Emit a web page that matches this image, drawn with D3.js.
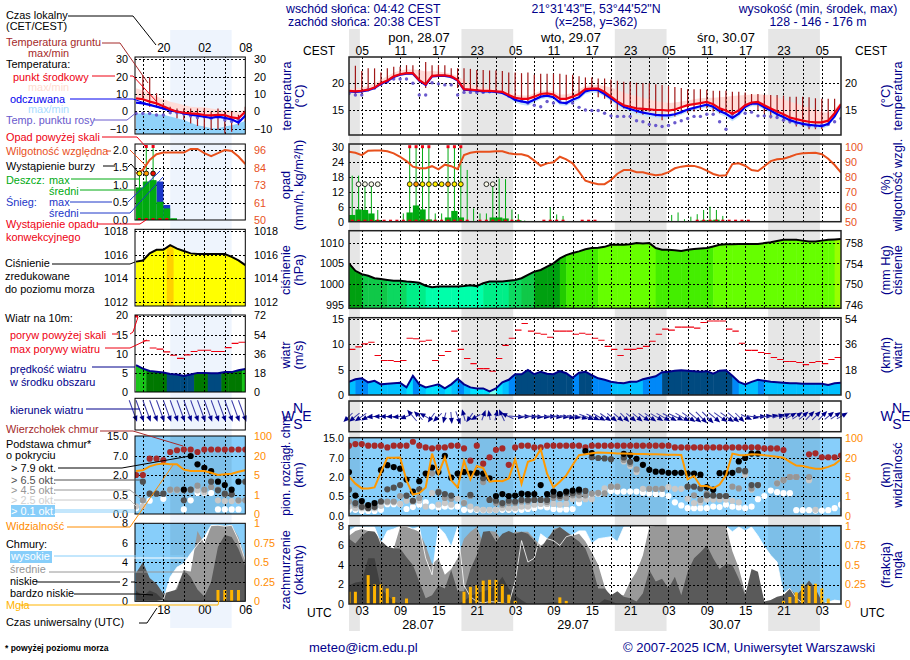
<!DOCTYPE html>
<html lang="pl">
<head>
<meta charset="utf-8">
<script src="https://d3js.org/d3.v7.min.js"></script>
<style>
    html, body { margin: 0; padding: 0; background: #fff; }
    text { font-family: "Liberation Sans", Arial, sans-serif; font-size: 12px; }
    .ylab text { font-size: 10.8px; }
    .tick line, .domain { display: none; }
    .grid .tick line { display: block; stroke: #000; stroke-dasharray: 2 2; shape-rendering: crispEdges; }
</style>
</head>
<body>
<svg id="chart" width="910" height="660"></svg>
<script>
// hours counted from 00 UTC 28.07, one value per hour starting at 01 UTC
var tempMid = [18.6,18.5,18.6,18.8,19.2,20,20.5,21.3,21.7,21.9,
    21.9,20.6,19.8,21.4,21.5,21.5,21.3,20.6,18.9,18.8,
    18.7,18.6,18.6,18.5,18.4,17.8,17.3,17.1,17.1,17.5,
    18,18.1,17.9,17.1,17.1,17.5,18,18.9,19,19,
    18.4,17.5,16.6,15.9,15.6,15.3,15.2,15.1,15,15,
    14.9,15.1,15.5,15.9,16.1,16.3,16.5,16.1,15.3,14.9,
    14.3,14.9,15.9,16.4,16.5,15.9,15.3,14.7,14.2,13.6,
    13.3,13,12.8,12.7,12.7,13,14.4,16.1];
var tempFelt = [18.5,18.4,18.5,18.7,19.1,19.9,20.4,21.2,21.6,21.8,
    21.8,20.5,19.7,21.3,21.4,21.4,21.2,20.5,18.8,18.7,
    18.6,18.5,18.5,18.4,18.2,17.6,16.9,16.6,16.4,16.9,
    17.5,17.7,17.4,16.4,16.3,16.9,17.4,18.5,18.8,18.7,
    18,17.2,16.4,15.6,15.2,14.8,14.5,14.3,14.1,14,
    14,14.2,14.6,15.1,15.4,15.7,16,15.6,14.8,14.3,
    13.5,14.3,15.6,16.2,16.2,15.5,14.9,14.2,13.7,13.1,
    12.7,12.4,12.2,12.1,12,12.4,13.8,15.9];
var tempMidMax = [19,19,19.2,19.5,20,20.7,21.3,22,22.4,22.6,
    22.6,22.5,22.2,22.3,22.2,22,21.8,21.3,20.6,19.8,
    19.4,19.2,19,18.9,18.8,18.3,17.9,17.7,17.7,18.1,
    18.6,18.7,18.5,17.9,17.9,18.3,18.9,19.5,19.7,19.7,
    19.5,19.2,18.8,18.3,17.9,17.6,17.3,17,16.7,16.5,
    16.3,16.4,16.6,16.8,17,17.2,17.3,17.3,17.4,17.5,
    17.6,17.7,17.8,17.9,17.9,17.9,17.8,17.4,17,16.6,
    16.2,15.8,15.4,15,14.6,14.5,15.2,16.5];
var tempFeltMin = [18.3,18.2,18.3,18.5,18.9,19.7,20.2,21,21.4,21.6,
    21.6,20.3,19.5,21.1,21.2,21.2,21,20.3,18.6,18.5,
    18.4,18.3,18.3,18.2,17.9,17.2,16.4,16,15.8,16.4,
    17,17.2,16.9,15.9,15.8,16.4,16.9,18,18.3,18.2,
    17.5,16.7,15.9,15.1,14.6,14.2,13.9,13.7,13.5,13.4,
    13.4,13.7,14.1,14.6,14.9,15.2,15.5,15,14.2,13.7,
    12.9,13.7,15.1,15.7,15.7,15,14.4,13.7,13.2,12.6,
    12.2,11.9,11.7,11.6,11.5,11.9,13.4,15.6];
var dewPoint = [18.1,17.8,17.8,18.8,19.1,19.8,20.3,20.8,20.8,20.8,
    20,17.8,17.8,20.1,19.9,19.7,19.7,17.8,18.3,18.3,
    18.3,18.3,18.4,18.4,18.3,17.6,17.1,16.7,16.3,15.9,
    15.6,16.6,16.3,16.6,16.3,16.3,15.5,15,14.9,14.9,
    14.4,13.9,13.8,13.8,13.8,13,12.8,12.3,12.1,11.9,
    12.1,12.6,13,13.4,13.8,13.8,14.2,14.2,12.8,11.4,
    14.2,14.8,14.4,14.6,13.9,13.9,13.8,13.6,13.1,12.8,
    12.5,12.4,12,12,12.2,12.3,12.8,13.4];
var groundMax = [null,23.3,22.3,22.8,22.8,22,22.8,23.1,23.1,23.4,
    23.4,22.5,24,23.4,23.4,23.4,22.8,22.8,22.8,22.7,
    22.5,22.5,22.4,22.4,22.3,22,22,21.9,22,21.6,
    21.8,21.8,21.8,21.8,21.6,21.6,21.3,21.1,21.1,20.9,
    20.9,20.7,20.5,20.3,20.3,20.1,20,20,19.8,19.7,
    19.5,19.3,19.1,18.9,18.9,18.9,18.8,18.6,18.6,18.6,
    18.4,18.4,18.3,18,18,17.8,17.8,17.8,17.7,17.5,
    17.5,17.5,17.4,17.2,17.1,17.1,17.1,null];
var groundMin = [null,18,18,18.8,19.1,20,20.3,20.9,21.6,21.8,
    21.6,20.3,19.1,21.4,21.6,21.4,20.9,19.1,18.6,18.4,
    18.4,18.4,18.3,18.2,18,17.5,17,16.8,16.7,17,
    17.6,17.8,17.5,16.8,16.8,17.2,17.7,18.4,18.5,17.4,
    17.1,16.1,15,15.3,15.3,14.4,14.1,14.7,13.8,13.1,
    13.8,13.8,14.4,14.4,14.7,15,15.3,14.7,14.4,14.1,
    13.8,14.1,15.6,15.9,15,14.4,13.4,13.4,12.8,12.5,
    11.9,11.9,11.4,11.4,11.4,12.3,14.1,null];

var rainMean = [2.7,4.9,4.7,3.3,.7,0,0,0,0,3.7,
    6.5,4.9,.9,.4,.2,1.7,4.3,1.7,.1,0,
    0,0,1.7,1.7,1.3,.2,.6,.2,.1,0,
    0,0,0,0,0,0,0,0,0,0,
    0,0,0,0,0,0,0,0,0,0,
    0,0,0,.2,.3,.5,.5,.8,.2,0];
var rainMax = [18.4,18.4,16,14.7,4.7,0,0,0,3.3,30,
    30,30,30,3.3,3.3,30,30,30,20.7,5.3,
    3.3,3.3,15.7,17.3,17,4.9,3,.5,.3,.2,
    .2,5.7,2.9,2.3,0,0,0,0,0,0,
    0,0,0,0,0,0,0,0,0,0,
    2.7,3.7,1,2,3,4.7,6,4.7,2.3,0];
var rainHours = d3.range(1, 20).concat([21,22,23,24,25,26,27,31,32,33,34,37,38,39,55,56,57,58,59,60,61,62,63]);
var stormHours = [2,3,4,5,10,11,12,13,14,15,16,17,18,22,23];
var stormLevels = [0,0,0,0,1,2,1,1,1,1,2,1,1,0,0];
var stormColors = ["#f8f8e8", "#ffee00", "#ff9900", "#ee1100"];
var humidity = [96.7,96,94.4,97.3,97.5,97.5,97,95.6,93.3,90.4,
    86.7,85.6,85.6,87,84.9,88,87,85,94.4,96,
    96.7,96.7,96.7,97,97,95.6,95,95,93.8,90.7,
    87.3,88.9,89.6,93.3,91.6,88.9,83.3,77.3,76,75,
    75,77.8,82,84.4,84.4,83,83,81.8,81,81.5,
    83,85.6,86.7,87.3,87.2,86,84,81.8,80.7,81,
    88.4,89,87.3,84.4,83.8,87,90.4,91.6,92,93.3,
    94.9,95.6,95.8,96,95,92,87.8,82.7];

var pressure = [1005,1003.2,1002.4,1002,1001.4,1001.2,1001,1000.8,1000.8,1000.6,
    1000.5,1000.3,999.6,999.2,999.4,999.4,999.4,999.4,999.5,999.7,
    999.5,1000.2,1000.6,1000.6,1000.6,1000.8,1001,1001.4,1002.2,1003,
    1003.4,1004.2,1005,1006.2,1007,1007.5,1007.9,1008.4,1008.7,1008.8,
    1009,1009.5,1009.5,1009.5,1009.6,1009.9,1009.8,1009.9,1008.7,1008.3,
    1008.3,1008.2,1008,1008.3,1008.5,1008.6,1008.7,1009.1,1009.5,1009.6,
    1009.6,1009.7,1009.7,1009.7,1009.7,1009.9,1010.1,1010.4,1010.7,1010.7,
    1010.7,1010.5,1010.3,1010.3,1010.5,1010.7,1010.8,1010.9];
var windSpeed = [2.6,3.1,3.3,2.5,2.8,2.1,2.2,2.3,2.4,1.5,
    3.8,2.1,1.5,1.8,2.1,1.3,2.1,3.2,2.1,1.5,
    1.3,1.3,.7,1.3,2.5,3,4.1,4.1,4.95,4.1,
    4.6,4.2,4.1,4.7,4.3,3.4,4.4,4.6,3.9,3.3,
    3,2.6,2.4,2.3,2.6,2.6,3.1,3.4,3.7,4.5,
    4.6,4.8,4.9,4.8,4.7,4.6,4.7,4.2,4.8,4.9,
    3.8,2.6,2.1,2.6,3,2.8,2.6,2.5,2.4,2.3,
    2.3,2.2,2.2,2.2,2.2,2,2.3,2.4];
var windGust = [9,9.5,10.1,10.4,7.8,6.8,6.8,6.6,6.8,11.2,
    11.1,10.6,10.8,6.8,7.8,8.6,12.6,9,7.2,6.2,
    5.2,5.2,4.7,7.2,9.8,11.2,12.8,14.1,12.6,12.2,
    12,11.4,12.6,12.6,12.6,12,12.2,12,11.2,10.8,
    9.6,9,7.8,9,9,9.2,9.6,10.6,12,13,
    12.8,13.4,13.4,13.4,13.2,14.3,14.6,14.6,14.6,13,
    12.6,10.2,8.8,8.8,8.4,8.2,7.4,7,6.6,6.6,
    6.4,6,6.4,6.6,6.2,7,7.4];
var windDir = [225,230,235,240,265,270,270,268,265,250,
    320,315,300,215,225,195,175,160,345,215,
    240,20,350,15,335,295,95,90,92,95,
    95,90,95,95,100,100,105,110,115,120,
    125,130,130,135,130,130,125,125,120,120,
    118,115,120,125,130,135,135,130,125,125,
    130,135,115,100,90,85,80,75,65,60,
    55,50,45,45,45,50,55,60];

var cloudTop = [12,12.65,12.65,12,12,12,11.3,12,12,12,
    13.6,12,11.3,10.9,11.3,11.3,12,12,10.9,6.3,
    12,5.5,7.3,10.3,10.9,5.2,11.3,12,12,11.3,
    11.3,12,12,12,12,12,12,11.3,12,12,
    12,12,12,12,12,12,12,12,12,12,
    12,11.3,11.3,11.3,11.3,11.3,11.3,11.3,11.3,11.3,
    11.3,11.3,11.3,11.3,11.3,10.9,10.9,10.9,10.2,2,
    2,null,8.5,8.9,7.3,7.3,7.3,8];
var base79 = [3.3,.53,.37,.27,.32,3.8,5.1,4.6,4.2,1.8,
    .85,1.67,2.9,4.5,3.3,7.9,1.95,2.9,3.3,2.9,
    3.1,2.9,1.9,.5,.65,.5,.53,.68,.65,.65,
    1.36,.65,.85,.65,.85,.93,1,9.8,9,null,
    null,null,null,8.7,8.2,6.8,5.2,3.9,3.4,3.4,
    3.1,3.1,3.1,2.9,2.9,2.6,1.2,1,3,3,
    3.1,6.1,7,8.8,8.8,null,null,null,null,null,
    null,null,null,null,null,null,null,null];
var base65 = [1,.32,.22,.19,.22,.36,1.03,1.16,1.36,.53,
    .38,1.03,null,null,.78,.65,.53,null,null,.6,
    null,1.9,.4,.38,.32,.38,.36,.4,.4,.4,
    .4,.4,.55,.5,.72,.72,.85,.9,7.3,7,
    6.9,6.7,null,7.2,6,null,null,null,null,null,
    null,null,null,1.24,1.24,1.1,.55,.55,.5,.5,
    null,3.8,3.6,1.36,1.36,null,null,null,null,null,
    null,null,null,null,null,null,null,null];
var base45 = [.36,.28,.25,.25,.28,.36,.36,.36,.5,.5,
    .36,.45,null,2.9,.85,.45,.43,null,.32,.5,
    2.9,1.6,.4,.32,.28,.32,.32,.36,.36,.4,
    .4,.35,.45,.45,.45,.55,.55,.55,.68,.75,
    .7,1.24,1.24,6.5,5.5,4,null,1.07,1.07,1.07,
    null,null,null,1.24,.55,.4,.68,.5,.5,.5,
    1.24,1.1,3.3,1.1,1.36,null,null,1.5,1.75,2,
    2,null,2,null,null,null,null,null];
var base25 = [.23,.19,.19,.19,.19,.25,.34,.34,.3,.38,
    .38,.38,.23,.73,.28,.32,.28,.43,.33,.23,
    .17,.15,.15,.15,.19,.19,.19,.23,.23,.28,
    .3,.3,.3,.28,.3,.42,.42,.42,.42,.7,
    1.1,1.24,1.24,6.1,4.9,3.3,1.07,1.07,1.07,1.07,
    1.2,1.07,1.07,.43,.32,.34,.41,.41,.41,.41,
    .38,.34,2.6,1,1.36,null,null,1.5,1.75,2,
    2,null,1.75,.15,null,null,null,null];
var base01 = [.15,.15,.12,.12,.12,.15,.29,.29,.29,.17,
    .22,.28,.34,.23,.21,.23,.23,.23,.15,.15,
    .15,.14,.14,.15,.15,.15,.15,.15,.17,.19,
    .23,.21,.17,.16,.16,.17,.32,.43,.55,.68,
    .85,.9,.85,.85,.85,.85,.76,.69,.65,.65,
    .5,.34,.26,.19,.19,.19,.19,.23,.22,.28,
    .23,.21,.19,.23,.42,.5,.93,.8,.72,.72,
    .14,.14,.14,.13,.13,.14,.19,.28];
var visibility = [5.3,3.6,2.6,2.6,2.8,8.9,21,21,22,4.3,
    1.3,1.6,2.8,38,7.6,22,4.3,2.8,17.6,4.5,
    13.7,12,4,4.2,4.1,4.7,19,3.6,17,18.7,
    56,7.6,2.8,4,6.3,14.4,31,35,39,42,
    41,40,38,38,37,36,36,35,35,34,
    33,33,32,4.5,5.8,3.1,3.1,2.6,3.4,6.3,
    38,32,31,35,34,31,28,25,21,17,
    14,13.7,12.5,11.5,11.5,13,15,19];

var cloudHigh = [7.5,7.9,7.9,7.9,7.9,6.2,7.5,7.7,8,8,
    7.7,7.9,4.7,3,7.9,7.2,5.9,7.9,1.9,.75,
    .25,.1,.25,.2,.1,0,2.3,6.5,4.3,4.7,
    7.2,6.7,6.5,6,6.9,7.1,7.5,7.5,6.2,6.7,
    6.8,6.9,6.4,7.9,7.9,8,8,8,8,8,
    8,8,8,8,8,8,8,8,8,8,
    7.4,7.9,7.5,7.9,7,5.9,5,4.3,1.1,1.6,
    .6,.1,0,0,0,.2,.4,.3];
var cloudMid = [7,7.5,7.7,7.5,7.4,6.5,5.7,5.7,7.9,7.9,
    7.7,7.4,6,4.1,4.7,3,3.6,4.7,6.7,7.4,
    7.9,6.2,7.5,7.4,6.4,7,7.4,7.4,7.4,6.7,
    6,6.4,7.7,7.9,7.4,7,7.2,6.4,5.3,4,
    1.8,.5,.9,.9,2.3,3.3,5,7.9,8,8,
    8,8,8,8,8,8,8,8,8,8,
    5.4,3.7,1.2,0,0,0,0,0,0,0,
    0,0,0,0,0,0,0,0];
var cloudLow = [6.7,6.2,7,7.5,7.4,6.5,5.9,5.7,5.7,4.8,
    4,2.3,.6,.9,1.9,1.6,3.5,1.3,1.3,3.6,
    5,7.4,7.5,6.4,7.2,7.5,7.2,7.4,7.2,6.5,
    5.7,6.7,7.5,7.9,7.4,6.9,6.4,5.7,4,1.6,
    1.6,.9,1.3,.75,.6,.25,1.1,3.5,2.3,2.6,
    1.6,2.8,.9,3.3,4.7,5.3,6,4.7,3.6,4.1,
    4,2.6,.9,3.6,3.3,.25,.4,.75,.9,1.6,
    .9,1.6,2.4,1.6,.25,0,0,0];
var cloudVeryLow = [1.9,2.2,2.3,4.7,4.7,1.6,.9,.3,0,0,
    0,0,0,0,0,0,0,0,.3,.8,
    1.1,1.3,1.5,1.9,2.8,1.6,.9,.4,0,0,
    0,.1,.2,.1,0,0,0,0,0,0,
    .5,.3,0,0,0,0,0,0,0,0,
    0,0,0,0,0,0,0,0,0,0,
    0,0,0,0,0,0,0,0,0,0,
    0,0,0,0,0,0,0,0];
var fog = [.157,.157,0,.37,.25,.25,.2,.09,0,.07,
    0,0,0,0,0,0,0,0,.157,.22,
    .24,.3,.31,.31,.25,.12,.04,0,0,0,
    0,0,0,.085,.04,0,0,0,0,0,
    0,0,0,0,0,0,0,0,0,0,
    0,0,0,0,0,0,0,0,0,0,
    0,0,0,0,0,0,0,0,.04,.09,
    .15,.25,.24,.26,.2,.07,0,0];

// 14 UTC to 06 UTC, the small column on the left
var leftTempMid = [7.5,7,5.6,4.6,3,1.2,-.2,-.8,-1.2,-1.5,-2.1,-2.3,-2,-2.1,-3.5,-4,-.2];
var leftTempFelt = [5,4.6,3.7,2.7,1.7,.6,-.2,-1.2,-1.9,-2.5,-3.1,-3.7,-3.1,-3.8,-4.6,-6.5,-2.5];
var leftTempMax = [13.3,12,10.4,8.5,7.1,5.6,4.6,3.7,2.7,2.3,2.3,1.7,1.1,.8,.4,-.2,1];
var leftFeltBand = [-1.2,-1.2,-1.2,-1.7,-2,-3,-4,-5,-6.5,-8,-8.8,-9.8,-9.8,-8.8,-8,-7,-5.4];
var leftDew = [-1.2,-1.2,-1.2,-2.1,-2.1,-.8,-.8,-1.5,-2.7,-3.6,-3.1,-4,-3.6,-5,-5.8,-4.6,-2.1];
var leftGroundMax = [null,21,19.6,10.4,4.6,2.7,1.7,1.7,1.7,1.7,1.7,-.2,1.7,-.2,-.2,-2,2.7];
var leftGroundMin = [null,6.5,2.7,2.7,.8,-1.2,-4,-5,-7,-8.5,-9.8,-10.8,-10.8,-12.7,-11.7,-8,-6];
var leftRain = [.93,1.1,1.14,.52,.33,.05,0,0,0,0,0,0,0,0,0,0];
var leftSnow = [0,0,0,1.1,.43,0,0,0,0,0,0,0,0,0,0,0];
var leftRainMax = [1.4,2.1,2.1,0,0,0,0,0,0,0,0,0,0,0,0,0];
var leftRainHours = [14,15,16,17,18];
var leftStormHours = [14,15,16];
var leftStormLevels = [1,2,3];
var leftHumidity = [80.7,82.9,89.5,93.2,94.3,94.3,94.3,94.3,96.7,96.7,93.9,92,93.9,96,95.4,91.7,86.8];
var leftPressure = [1015.4,1015.5,1016.1,1016.4,1016.4,1016.8,1016.5,1016.3,1016.1,1016.05,1016.05,1016.05,1016.05,1016.05,1015.8,1015.5,1015.1];
var leftWind = [7,6.1,5.5,5.3,5.1,4.7,4.6,4.2,4.6,5,5,4.9,4.9,5.2,5.2,5.7,6];
var leftGust = [20,13.4,11.5,11.2,10.5,9.6,8.8,9.7,10.6,10.9,10.9,10.6,10.6,11.6,12.7,13,13];
var leftDir = [160,160,160,160,160,160,160,160,160,160,160,160,160,160,160,160,160];
var leftTop = [2,2,6.3,6.3,5.9,8.6,9.3,9.6,9.6,8.6,9.6,9.6,9.6,9.6,9.6,9.6,9.6];
var left79 = [null,null,null,null,null,null,null,.9,7,4.8,3.9,3,1.5,1.25,.9,1.5,null];
var left65 = [null,1.5,.6,.6,.6,null,null,.36,.9,null,null,1.5,.85,.6,.55,null,1.5];
var left45 = [null,.36,.6,.6,.6,.9,.9,.85,.9,1.2,.9,1.1,.9,.55,.55,.36,.36];
var left25 = [.2,.2,null,null,null,.85,.85,null,null,.85,.7,null,.36,.34,.34,.34,null];
var left01 = [.15,.23,.35,null,.4,null,null,.12,.36,.65,.65,.65,.12,.12,.12,.12,null];
var leftVis = [8.2,8.7,11.8,13.4,14,13.4,13.4,9.2,8.2,8.2,8.2,6.8,5,5.5,6,7.5,8.7];
var leftHigh = [0,0,0,0,.1,2.5,3.5,3.9,4.9,5.8,6.6,7.8,7.8,7.7,7.8,6.3,4.2];
var leftMid = [0,0,0,0,0,.2,1.5,3.2,3,7.2,5.9,7.7,7.8,7.7,7.8,6.6,4.4];
var leftLow = [2.9,4,2.4,1.8,.8,1,1.2,3.2,2.5,1.2,.5,2,5.6,6.8,6.6,5.4,3.6];
var leftVeryLow = [1.1,.5,1.1,.8,.1,0,0,0,0,0,0,0,0,0,0,0,0];
var leftFog = [0,0,0,0,0,0,0,0,0,0,0,0,.145,.145,.145,.145,0];

var mainTicks = [3,9,15,21,27,33,39,45,51,57,63,69,75];
var gridHours = d3.range(3, 78, 3);
var nightsMain = [[1,2.7],[18.6,26.7],[42.6,50.7],[66.6,74.7]];
var nightsLeft = [[19,28]];

var svg = d3.select("#chart");
var hours = d3.range(1, 79);
var leftHours = d3.range(14, 31);
var xMain = d3.scaleLinear().domain([1, 78]).range([349, 841]);
var xLeft = d3.scaleLinear().domain([13.85, 30]).range([135, 245.3]);
var pad2 = d3.format("02");
var navy = "#00008b";
var bandSky = "#87cefa";

var pressColor = d3.scaleThreshold()
    .domain([999.8,1000.7,1001.2,1002.5,1005.5,1007,1008.75,1010.75,1014,1016.7])
    .range(["#00ffaa","#00ee88","#0cd860","#10c848","#00a010","#22cc00","#44ee00","#66ff00","#99ff00","#ffff00","#ffd000"]);
var windColor = d3.scaleThreshold()
    .domain([1,2,3,4,5,6])
    .range(["#7fffee","#00e0ff","#00c0ff","#0088f8","#004a80","#007800","#18c418"]);

// ---- helpers
function label(x, y, str, color, anchor, size, weight) {
    return svg.append("text").attr("x", x).attr("y", y).text(str)
        .attr("fill", color || "#000")
        .attr("text-anchor", anchor || "start")
        .style("font-size", (size || 12) + "px")
        .style("font-weight", weight || "normal");
}
function vlabel(x, y, str, size) {
    svg.append("text").attr("transform", "translate(" + x + "," + y + ") rotate(-90)")
        .attr("text-anchor", "middle").attr("fill", navy).style("font-size", (size || 12.8) + "px").text(str);
}
function leader(points, color, width) {
    svg.append("path").attr("d", d3.line()(points)).attr("fill", "none")
        .attr("stroke", color).attr("stroke-width", width || 1);
}
var clipCount = 0;
function panel(x, top, bottom) {
    var id = "clip" + (clipCount++);
    svg.append("clipPath").attr("id", id).append("rect")
        .attr("x", x.range()[0]).attr("y", top)
        .attr("width", x.range()[1] - x.range()[0]).attr("height", bottom - top);
    return svg.append("g").attr("clip-path", "url(#" + id + ")");
}
function frame(x, top, bottom, heavy) {
    svg.append("rect").attr("x", x.range()[0]).attr("y", top)
        .attr("width", x.range()[1] - x.range()[0]).attr("height", bottom - top)
        .attr("fill", "none").attr("stroke", heavy ? "#222" : "#000").attr("stroke-width", heavy ? 1.5 : 1);
}
function grid(g, x, y, top, bottom, xTicks, yTicks) {
    g.append("g").attr("class", "grid").attr("transform", "translate(0," + bottom + ")")
        .call(d3.axisBottom(x).tickValues(xTicks).tickSize(top - bottom).tickFormat(""));
    g.append("g").attr("class", "grid").attr("transform", "translate(" + x.range()[0] + ",0)")
        .call(d3.axisRight(y).tickValues(yTicks).tickSize(x.range()[1] - x.range()[0]).tickFormat(""));
}
function yLabels(y, px, right, values, fmt, color) {
    var a = right ? d3.axisRight(y) : d3.axisLeft(y);
    var g = svg.append("g").attr("class", "ylab").attr("transform", "translate(" + px + ",0)")
        .call(a.tickValues(values).tickSize(0).tickPadding(0).tickFormat(fmt || d3.format("d")));
    g.attr("font-family", null).attr("font-size", null);
    g.selectAll("text").attr("fill", color || "#000");
}
function xLabels(x, py, top, values, fmt) {
    var a = top ? d3.axisTop(x) : d3.axisBottom(x);
    var g = svg.append("g").attr("transform", "translate(0," + py + ")")
        .call(a.tickValues(values).tickSize(0).tickPadding(0).tickFormat(fmt));
    g.attr("font-family", null).attr("font-size", null);
    g.selectAll("text").attr("fill", "#000");
}
function drawNights(x, nights, top, bottom, fill) {
    svg.append("g").selectAll("rect").data(nights).join("rect")
        .attr("x", function(d) { return x(d[0]); })
        .attr("width", function(d) { return x(d[1]) - x(d[0]); })
        .attr("y", top).attr("height", bottom - top).attr("fill", fill);
}
function series(g, hrs, x, y, vals) {
    return d3.line().defined(function(d) { return d != null; })
        .x(function(d, i) { return x(hrs[i]); }).y(function(d) { return y(d); })(vals);
}
function band(g, hrs, x, y, upper, lower, fill) {
    g.append("path").attr("fill", fill).attr("d", d3.area()
        .x(function(d, i) { return x(hrs[i]); })
        .y0(function(d, i) { return y(lower[i]); })
        .y1(function(d) { return y(d); })(upper));
}
function dots(g, hrs, x, y, vals, r, fill) {
    g.append("g").selectAll("circle")
        .data(vals.map(function(v, i) { return [hrs[i], v]; }).filter(function(d) { return d[1] != null; }))
        .join("circle").attr("cx", function(d) { return x(d[0]); }).attr("cy", function(d) { return y(d[1]); })
        .attr("r", r).attr("fill", fill);
}

// ---- one full set of panels, for the left column or the main chart
function temperaturePanel(x, hrs, yScale, top, bottom, xTicks, yTicks, d) {
    var g = panel(x, top, bottom);
    band(g, hrs, x, yScale, d.max, d.mid, "#ffdcd8");
    band(g, hrs, x, yScale, d.felt, d.low, d.lowFill);
    grid(g, x, yScale, top, bottom, xTicks, yTicks);
    g.append("g").selectAll("line").data(hrs.filter(function(h, i) { return d.gMax[i] != null; })).join("line")
        .attr("x1", x).attr("x2", x)
        .attr("y1", function(h) { return yScale(d.gMax[hrs.indexOf(h)]); })
        .attr("y2", function(h) { return yScale(d.gMin[hrs.indexOf(h)]); })
        .attr("stroke", "#a01818").attr("stroke-width", 1.2);
    dots(g, hrs, x, yScale, d.dew, 1.7, "#6a5acd");
    g.append("path").attr("fill", "none").attr("stroke", "#0000ee").attr("stroke-width", 2.2).attr("d", series(g, hrs, x, yScale, d.felt));
    g.append("path").attr("fill", "none").attr("stroke", "#ee0011").attr("stroke-width", 2.2).attr("d", series(g, hrs, x, yScale, d.mid));
    frame(x, top, bottom, d.heavy);
}
function precipPanel(x, hrs, yMm, yRh, top, bottom, xTicks, yTicks, d) {
    var g = panel(x, top, bottom);
    grid(g, x, yMm, top, bottom, xTicks, yTicks);
    var w = x(2) - x(1);
    if (d.snow) {
        g.append("g").selectAll("rect").data(d.snow).join("rect")
            .attr("x", function(v, i) { return x(d.start + i); }).attr("width", w)
            .attr("y", function(v) { return yMm(v); }).attr("height", function(v) { return yMm(0) - yMm(v); })
            .attr("fill", "#1c36c8");
    }
    g.append("g").selectAll("rect").data(d.rain).join("rect")
        .attr("x", function(v, i) { return x(d.start + i); }).attr("width", w)
        .attr("y", function(v) { return yMm(v); }).attr("height", function(v) { return yMm(0) - yMm(v); })
        .attr("fill", "#00aa11");
    g.append("g").selectAll("line").data(d.rainMax).join("line")
        .attr("x1", function(v, i) { return x(d.start + i + .5); })
        .attr("x2", function(v, i) { return x(d.start + i + .5); })
        .attr("y1", function(v) { return yMm(v); }).attr("y2", yMm(0))
        .attr("stroke", "#00aa11").attr("stroke-width", 1);
    g.append("g").selectAll("rect.top").data(d.rainMax.map(function(v, i) { return [i, v]; }).filter(function(e) { return e[1] >= d.over; }))
        .join("rect").attr("class", "top")
        .attr("x", function(e) { return x(d.start + e[0] + .5) - 1.5; }).attr("width", 3).attr("height", 3)
        .attr("y", function(e) { return yMm(e[1]) - 1.5; }).attr("fill", "#ee0011");
    g.append("g").selectAll("rect.occ").data(d.rainHours).join("rect").attr("class", "occ")
        .attr("x", function(h) { return x(h + .5) - 1.5; }).attr("width", 3).attr("height", 3)
        .attr("y", yMm(0) - 2).attr("fill", "#ee0011");
    g.append("path").attr("fill", "none").attr("stroke", "#e8501c").attr("stroke-width", 2).attr("d", series(g, hrs, x, yRh, d.rh));
    g.append("g").selectAll("circle").data(d.stormHours).join("circle")
        .attr("cx", function(h) { return x(h + .5); }).attr("cy", yMm(d.stormAt)).attr("r", 2.4)
        .attr("stroke", "#000").attr("stroke-width", .8)
        .attr("fill", function(h, i) { return stormColors[d.stormLevels[i]]; });
    frame(x, top, bottom, d.heavy);
}
function stripPanel(x, hrs, yScale, top, bottom, xTicks, yTicks, vals, color, base, shift) {
    var id = "area" + (clipCount++);
    var area = d3.area().x(function(d, i) { return x(hrs[i]); }).y0(bottom).y1(function(d) { return yScale(d); })(vals);
    svg.append("clipPath").attr("id", id).append("path").attr("d", area);
    var g = panel(x, top, bottom);
    g.append("g").attr("clip-path", "url(#" + id + ")").selectAll("rect").data(vals).join("rect")
        .attr("x", function(d, i) { return x(hrs[i] + shift); })
        .attr("width", x(2) - x(1) + .5)
        .attr("y", top).attr("height", bottom - top)
        .attr("fill", function(d) { return color(d); });
    grid(g, x, yScale, top, bottom, xTicks, yTicks);
    return g;
}
function gustDashes(g, x, y, hrs, vals) {
    g.append("g").selectAll("line").data(vals).join("line")
        .attr("x1", function(d, i) { return x(hrs[i]); })
        .attr("x2", function(d, i) { return x(hrs[i] + 1); })
        .attr("y1", function(d) { return y(d); }).attr("y2", function(d) { return y(d); })
        .attr("stroke", "#ee0011").attr("stroke-width", 1.1);
}
function arrows(g, x, hrs, cy, dirs, lenOf, part) {
    var a = g.append("g").selectAll("g").data(dirs).join("g")
        .attr("transform", function(d, i) { return "translate(" + x(hrs[i]) + "," + cy + ") rotate(" + d + ")"; });
    a.append("line").attr("x1", 0).attr("x2", 0)
        .attr("y1", function(d, i) { return lenOf(i) * (1 - part); })
        .attr("y2", function(d, i) { return -lenOf(i) * part; })
        .attr("stroke", "#3a3aa8").attr("stroke-width", 1);
    a.append("path").attr("fill", navy)
        .attr("d", function(d, i) {
            var t = -lenOf(i) * part;
            return "M0," + (t - 3) + "L-2.5," + (t + 3) + "L2.5," + (t + 3) + "Z";
        });
}
function basePanel(x, hrs, yKm, yVis, top, bottom, xTicks, kmTicks, d) {
    var g = panel(x, top, bottom);
    g.append("rect").attr("x", x.range()[0]).attr("y", top).attr("width", x.range()[1] - x.range()[0])
        .attr("height", bottom - top).attr("fill", bandSky);
    g.append("g").selectAll("rect").data(d.nights).join("rect")
        .attr("x", function(n) { return x(n[0]); }).attr("width", function(n) { return x(n[1]) - x(n[0]); })
        .attr("y", top).attr("height", bottom - top).attr("fill", "#000").attr("opacity", .07);
    grid(g, x, yKm, top, bottom, xTicks, kmTicks);
    dots(g, hrs, x, yKm, d.top, 3.1, "#a52a2a");
    dots(g, hrs, x, yKm, d.b01, 3.1, "#ffffff");
    dots(g, hrs, x, yKm, d.b25, 3.1, "#c8c8c8");
    dots(g, hrs, x, yKm, d.b45, 3.1, "#969696");
    dots(g, hrs, x, yKm, d.b65, 3.1, "#505050");
    dots(g, hrs, x, yKm, d.b79, 3.1, "#000000");
    g.append("path").attr("fill", "none").attr("stroke", "#ff9900").attr("stroke-width", 2).attr("d", series(g, hrs, x, yVis, d.vis));
    frame(x, top, bottom, d.heavy);
}
function cloudPanel(x, hrs, yOk, yFog, top, bottom, xTicks, okTicks, d) {
    var g = panel(x, top, bottom);
    g.append("rect").attr("x", x.range()[0]).attr("y", top).attr("width", x.range()[1] - x.range()[0])
        .attr("height", bottom - top).attr("fill", bandSky);
    g.append("g").selectAll("rect").data(d.nights).join("rect")
        .attr("x", function(n) { return x(n[0]); }).attr("width", function(n) { return x(n[1]) - x(n[0]); })
        .attr("y", top).attr("height", bottom - top).attr("fill", "#000").attr("opacity", .07);
    var zero = hrs.map(function() { return 0; });
    band(g, hrs, x, yOk, d.high, zero, "#ffffff");
    band(g, hrs, x, yOk, d.mid, zero, "#999999");
    band(g, hrs, x, yOk, d.low, zero, "#5a5a5a");
    band(g, hrs, x, yOk, d.vlow, zero, "#404040");
    g.append("path").attr("fill", "none").attr("stroke", "#fff").attr("stroke-opacity", .8).attr("d", series(g, hrs, x, yOk, d.high));
    g.append("g").selectAll("rect").data(d.fog).join("rect")
        .attr("x", function(v, i) { return x(hrs[i]) - 1.5; }).attr("width", 3)
        .attr("y", function(v) { return yFog(v); }).attr("height", function(v) { return yFog(0) - yFog(v); })
        .attr("fill", "#ffb400");
    grid(g, x, yOk, top, bottom, xTicks, okTicks);
    frame(x, top, bottom, d.heavy);
}

// ---- shading behind everything
drawNights(xMain, nightsMain, 29, 631, "#e6e6e6");
drawNights(xLeft, nightsLeft, 30, 628, "#eef4fd");

// ---- main chart
var yT = d3.scaleLinear().domain([20, 15]).range([83.3, 110]);
temperaturePanel(xMain, hours, yT, 57, 135, gridHours, [20,15], {
    max: tempMidMax, mid: tempMid, felt: tempFelt, low: tempFeltMin, lowFill: "#c4e4fb",
    gMax: groundMax, gMin: groundMin, dew: dewPoint, heavy: true
});
yLabels(yT, 344, false, [20,15]);
yLabels(yT, 845, true, [20,15]);

var yMm = d3.scaleLinear().domain([0, 30]).range([221.7, 146.7]);
var yRh = d3.scaleLinear().domain([50, 100]).range([221.7, 146.7]);
precipPanel(xMain, hours, yMm, yRh, 144, 221.7, gridHours, [6,12,18,24], {
    rain: rainMean, rainMax: rainMax, rainHours: rainHours, rh: humidity, start: 1, over: 30,
    stormHours: stormHours, stormLevels: stormLevels, stormAt: 15, heavy: true
});
yLabels(yMm, 344, false, [30,24,18,12,6,0]);
yLabels(yRh, 845, true, [100,90,80,70,60,50], null, "#e8501c");

var yP = d3.scaleLinear().domain([1010, 995]).range([242.7, 304.7]);
var yMmHg = d3.scaleLinear().domain([758, 746]).range([243, 304.7]);
var pG = stripPanel(xMain, hours, yP, 230.7, 308.3, gridHours, [1010,1005,1000,995], pressure, pressColor, 308.3, 0);
pG.append("path").attr("fill", "none").attr("stroke", "#000").attr("stroke-width", 2).attr("d", series(pG, hours, xMain, yP, pressure));
frame(xMain, 230.7, 308.3, true);
yLabels(yP, 344, false, [1010,1005,1000,995]);
yLabels(yMmHg, 845, true, [758,754,750,746]);

var yW = d3.scaleLinear().domain([0, 15]).range([395, 319]);
var yKmh = d3.scaleLinear().domain([0, 54]).range([395, 319]);
var wG = stripPanel(xMain, hours, yW, 317.7, 395, gridHours, [5,10,15], windSpeed, windColor, 395, 0);
gustDashes(wG, xMain, yW, hours, windGust);
wG.append("path").attr("fill", "none").attr("stroke", "#00008b").attr("stroke-width", 2).attr("d", series(wG, hours, xMain, yW, windSpeed));
frame(xMain, 317.7, 395, true);
yLabels(yW, 344, false, [15,10,5,0]);
yLabels(yKmh, 845, true, [54,36,18,0]);

var dG = svg.append("g");
dG.append("g").attr("class", "grid").attr("transform", "translate(0,431.7)")
    .call(d3.axisBottom(xMain).tickValues(gridHours).tickSize(-30.7).tickFormat(""));
arrows(dG, xMain, hours, 416.5, windDir, function(i) { return 6 + 1.5 * windSpeed[i]; }, .5);
frame(xMain, 401, 431.7, true);

var yKm = d3.scaleLinear().domain([0, .5, 2, 7, 15]).range([515.7, 496, 477, 458, 438.3]);
var yVis = d3.scaleLinear().domain([0, 1, 5, 20, 100]).range([515.7, 496, 477, 458, 438.3]);
basePanel(xMain, hours, yKm, yVis, 437.7, 515.7, gridHours, [7,2,.5], {
    top: cloudTop, b79: base79, b65: base65, b45: base45, b25: base25, b01: base01, vis: visibility,
    nights: nightsMain, heavy: true
});
yLabels(yKm, 344, false, [15,7,2,.5,0], d3.format(".1f"));
yLabels(yVis, 845, true, [100,20,5,1,0], null, "#ff8c00");

var yOk = d3.scaleLinear().domain([0, 8]).range([604, 526]);
var yFog = d3.scaleLinear().domain([0, 1]).range([604, 526]);
cloudPanel(xMain, hours, yOk, yFog, 525.7, 604, gridHours, [2,4,6], {
    high: cloudHigh, mid: cloudMid, low: cloudLow, vlow: cloudVeryLow, fog: fog, nights: nightsMain, heavy: true
});
yLabels(yOk, 344, false, [8,6,4,2,0]);
yLabels(yFog, 845, true, [1,.75,.5,.25,0], function(d) { return d3.format("")(d); }, "#ff8c00");

// ---- left column
var leftGrid = [15,18,21,24,27];
var lT = d3.scaleLinear().domain([30, -10]).range([59.3, 128.7]);
var bottomT = leftHours.map(function() { return -13; });
var lG = panel(xLeft, 57, 134);
band(lG, leftHours, xLeft, lT, leftFeltBand, bottomT, "#90d2fa");
temperaturePanel(xLeft, leftHours, lT, 57, 134, leftGrid, [30,20,10,0,-10], {
    max: leftTempMax, mid: leftTempMid, felt: leftTempFelt, low: leftTempFelt, lowFill: "none",
    gMax: leftGroundMax, gMin: leftGroundMin, dew: leftDew, heavy: false
});
yLabels(lT, 128, false, [30,20,10,0,-10]);
yLabels(lT, 254, true, [30,20,10,0,-10]);

var lMm = d3.scaleLinear().domain([0, 2]).range([220, 150]);
var lRh = d3.scaleLinear().domain([50, 96]).range([220, 150]);
precipPanel(xLeft, leftHours, lMm, lRh, 144, 220, leftGrid, [.5,1,1.5,2], {
    rain: leftRain, snow: leftSnow, rainMax: leftRainMax, rainHours: leftRainHours, rh: leftHumidity, start: 14, over: 2,
    stormHours: leftStormHours, stormLevels: leftStormLevels, stormAt: 1.33, heavy: false
});
yLabels(lMm, 128, false, [2,1.5,1,.5,0], d3.format(".1f"));
yLabels(lRh, 254, true, [96,84,73,61,50], null, "#e8501c");

var lP = d3.scaleLinear().domain([1018, 1012]).range([231, 301.7]);
var lpG = stripPanel(xLeft, leftHours, lP, 229.3, 306, leftGrid, [1018,1016,1014,1012], leftPressure, pressColor, 306, -.5);
lpG.append("path").attr("fill", "none").attr("stroke", "#000").attr("stroke-width", 2).attr("d", series(lpG, leftHours, xLeft, lP, leftPressure));
frame(xLeft, 229.3, 306, false);
yLabels(lP, 128, false, [1018,1016,1014,1012]);
yLabels(lP, 254, true, [1018,1016,1014,1012]);

var lW = d3.scaleLinear().domain([0, 20]).range([392, 315.5]);
var lKmh = d3.scaleLinear().domain([0, 72]).range([392, 315.5]);
var lwG = stripPanel(xLeft, leftHours, lW, 315, 392, leftGrid, [5,10,15,20], leftWind, windColor, 392, -.5);
gustDashes(lwG, xLeft, lW, leftHours.slice(1), leftGust.slice(1));
lwG.append("path").attr("fill", "none").attr("stroke", "#00008b").attr("stroke-width", 2).attr("d", series(lwG, leftHours, xLeft, lW, leftWind));
lwG.append("rect").attr("x", xLeft(14) - 1).attr("y", lW(leftGust[0]) - 1).attr("width", 3).attr("height", 3).attr("fill", "#ee0011");
frame(xLeft, 315, 392, false);
yLabels(lW, 128, false, [20,15,10,5,0]);
yLabels(lKmh, 254, true, [72,54,36,18,0]);

var ldG = svg.append("g");
ldG.append("g").attr("class", "grid").attr("transform", "translate(0,430)")
    .call(d3.axisBottom(xLeft).tickValues(leftGrid).tickSize(-31.7).tickFormat(""));
arrows(ldG, xLeft, leftHours, 419, leftDir, function() { return 20; }, 0);
frame(xLeft, 398.3, 430, false);

var lKm = d3.scaleLinear().domain([0, .5, 2, 7, 15]).range([514, 495, 475, 456, 436]);
var lVis = d3.scaleLinear().domain([0, 1, 5, 20, 100]).range([514, 495, 475, 456, 436]);
basePanel(xLeft, leftHours, lKm, lVis, 436, 514, leftGrid, [7,2,.5], {
    top: leftTop, b79: left79, b65: left65, b45: left45, b25: left25, b01: left01, vis: leftVis,
    nights: nightsLeft, heavy: false
});
yLabels(lKm, 128, false, [15,7,2,.5,0], d3.format(".1f"));
yLabels(lVis, 254, true, [100,20,5,1,0], null, "#ff8c00");

var lOk = d3.scaleLinear().domain([0, 8]).range([601.3, 523.3]);
var lFog = d3.scaleLinear().domain([0, 1]).range([601.3, 523.3]);
cloudPanel(xLeft, leftHours, lOk, lFog, 523.3, 601.3, leftGrid, [2,4,6], {
    high: leftHigh, mid: leftMid, low: leftLow, vlow: leftVeryLow, fog: leftFog, nights: nightsLeft, heavy: false
});
yLabels(lOk, 128, false, [8,6,4,2,0]);
yLabels(lFog, 254, true, [1,.75,.5,.25,0], function(d) { return d3.format("")(d); }, "#ff8c00");

// ---- time labels
xLabels(xMain, 55, true, mainTicks, function(h) { return pad2((h + 2) % 24); });
xLabels(xMain, 606, false, mainTicks, function(h) { return pad2(h % 24); });
xLabels(xLeft, 52, true, [18,24,30], function(h) { return pad2((h + 2) % 24); });
xLabels(xLeft, 605, false, [18,24,30], function(h) { return pad2(h % 24); });

// ---- header and footer
label(286, 13, "wschód słońca: 04:42 CEST", navy, "start", 12.3);
label(288, 26, "zachód słońca: 20:38 CEST", navy, "start", 12.3);
label(596, 13, "21°31'43\"E, 53°44'52\"N", navy, "middle", 12.3);
label(596, 26, "(x=258,  y=362)", navy, "middle", 12.3);
label(818, 13, "wysokość (min, środek, max)", navy, "middle", 12.3);
label(818, 26, "128 - 146 - 176 m", navy, "middle", 12.3);
label(419, 42, "pon, 28.07", "#000", "middle", 13);
label(571, 42, "wto, 29.07", "#000", "middle", 13);
label(726, 42, "śro, 30.07", "#000", "middle", 13);
label(303, 55, "CEST");
label(855, 55, "CEST");
label(307, 617, "UTC");
label(860, 617, "UTC");
label(418, 629, "28.07", "#000", "middle", 12.7);
label(573, 629, "29.07", "#000", "middle", 12.7);
label(725, 629, "30.07", "#000", "middle", 12.7);
label(309, 652, "meteo@icm.edu.pl", navy, "start", 13);
label(623, 652, "© 2007-2025 ICM, Uniwersytet Warszawski", navy, "start", 13.1);

// rotated axis titles
vlabel(291, 96, "temperatura"); vlabel(304, 96, "(°C)");
vlabel(290, 185, "opad"); vlabel(303, 185, "(mm/h, kg/m²/h)");
vlabel(290, 270, "ciśnienie"); vlabel(303, 270, "(hPa)");
vlabel(290, 355, "wiatr"); vlabel(303, 355, "(m/s)");
vlabel(290, 464, "pion. rozciągł. chm.", 12); vlabel(303, 475, "(km)");
vlabel(290, 570, "zachmurzenie"); vlabel(303, 570, "(oktanty)");
vlabel(890, 96, "(°C)"); vlabel(902, 96, "temperatura");
vlabel(890, 185, "(%)"); vlabel(902, 185, "wilgotność wzgl.");
vlabel(890, 270, "(mm Hg)"); vlabel(902, 270, "ciśnienie");
vlabel(890, 355, "(km/h)"); vlabel(902, 355, "wiatr");
vlabel(890, 475, "(km)"); vlabel(902, 475, "widzialność");
vlabel(890, 565, "(frakcja)"); vlabel(902, 565, "mgła");
[298, 897].forEach(function(cx) {
    label(cx, 413, "N", navy, "middle", 14);
    label(cx, 429, "S", navy, "middle", 14);
    label(cx - 10, 421, "W", navy, "middle", 14);
    label(cx + 9, 421, "E", navy, "middle", 14);
});

// ---- legend on the far left
var brown = "#a52a2a", redC = "#ee0011", humC = "#e8501c", rainC = "#00aa11", snowC = "#1c36c8", orange = "#ff8c00";
leader([[68,16],[133,16],[156,45]], "#000");
leader([[102,43],[120,43],[148,83]], brown);
leader([[92,76],[115,76]], redC);
leader([[130,76],[133,76],[157,102]], redC);
leader([[70,99],[133,99],[166,110]], "#0000ee");
leader([[94,120],[127,120],[137,112]], "#6a5acd");
leader([[102,137],[137,137],[146,147]], redC);
leader([[106,151],[111,151]], humC);
leader([[130,150],[140,160],[146,166]], humC);
leader([[103,166],[115,166]], "#000");
leader([[128,167],[131,164],[138,172]], "#000");
leader([[71,179],[139,179]], rainC);
leader([[80,190],[143,190]], rainC);
leader([[70,202],[112,202]], snowC);
leader([[128,202],[160,171]], snowC);
leader([[80,213],[130,213],[163,177]], snowC);
leader([[97,224],[140,224],[146,220]], redC);
leader([[52,264],[130,264],[135,262]], "#000");
leader([[112,334],[118,334]], redC);
leader([[130,334],[133,332],[138,317]], redC);
leader([[105,348],[130,348],[147,340]], redC);
leader([[92,367],[135,367]], navy);
leader([[86,409],[140,409]], navy);
leader([[100,431],[133,431],[183,446]], brown);
leader([[58,468],[122,468],[190,456]], "#000");
leader([[54,480],[143,480]], "#505050");
leader([[54,490],[130,490],[143,500]], "#969696");
leader([[54,500],[130,500],[138,508]], "#c8c8c8");
leader([[55,510],[135,510]], bandSky);
leader([[55,512],[135,512]], bandSky);
leader([[67,527],[130,527],[173,465]], orange);
leader([[54,556],[187,556]], bandSky);
leader([[54,558],[187,558]], "#fff");
leader([[49,572],[192,572]], "#969696");
leader([[36,582],[120,582]], "#000");
leader([[131,582],[135,582]], "#000");
leader([[74,594],[137,594],[153,595]], "#000");
leader([[20,605],[218,605],[219,600]], "#ffb400");
leader([[139,623],[147,623],[157,608]], "#000");

svg.append("rect").attr("x", 11).attr("y", 505).attr("width", 44).attr("height", 12).attr("fill", bandSky);
svg.append("rect").attr("x", 10).attr("y", 551).attr("width", 42).attr("height", 12).attr("fill", bandSky);

var legendTexts = [
    [6,19,"Czas lokalny","#000"], [6,30,"(CET/CEST)","#000"],
    [6,46,"Temperatura gruntu",brown], [28,57,"max/min",brown],
    [6,68,"Temperatura:","#000"], [13,81,"punkt środkowy",redC], [28,91,"max/min","#ffdcd0"],
    [10,103,"odczuwana","#0000ee"], [28,113,"max/min","#a8dcff"], [6,124,"Temp. punktu rosy","#6a5acd"],
    [6,141,"Opad powyżej skali",redC], [6,155,"Wilgotność względna",humC], [6,170,"Wystąpienie burzy","#000"],
    [6,184,"Deszcz:",rainC], [49,184,"max",rainC], [49,195,"średni",rainC],
    [6,206,"Śnieg:",snowC], [49,206,"max",snowC], [49,217,"średni",snowC],
    [6,228,"Wystąpienie opadu",redC], [6,241,"konwekcyjnego",redC],
    [5,267,"Ciśnienie","#000"], [5,280,"zredukowane","#000"], [5,293,"do poziomu morza","#000"],
    [5,322,"Wiatr na 10m:","#000"], [10,339,"poryw powyżej skali",redC], [10,353,"max porywy wiatru",redC],
    [10,373,"prędkość wiatru",navy], [10,386,"w środku obszaru",navy], [10,414,"kierunek wiatru",navy],
    [6,433,"Wierzchołek chmur",brown], [6,448,"Podstawa chmur*","#000"], [6,459,"o pokryciu","#000"],
    [11,472,"> 7.9 okt.","#000"], [11,484,"> 6.5 okt.","#505050"], [11,494,"> 4.5 okt.","#969696"],
    [11,504,"> 2.5 okt.","#d0d0d0"], [11,515,"> 0.1 okt.","#fff"], [6,530,"Widzialność",orange],
    [6,548,"Chmury:","#000"], [11,560,"wysokie","#fff"], [10,573,"średnie","#969696"],
    [10,585,"niskie","#000"], [10,597,"bardzo niskie","#000"], [6,609,"Mgła","#ffb400"],
    [6,626,"Czas uniwersalny (UTC)","#000"]
];
legendTexts.forEach(function(t) { label(t[0], t[1], t[2], t[3], "start", 10.9); });
label(5, 651, "* powyżej poziomu morza", "#000", "start", 8.5, "bold");
</script>
</body>
</html>
